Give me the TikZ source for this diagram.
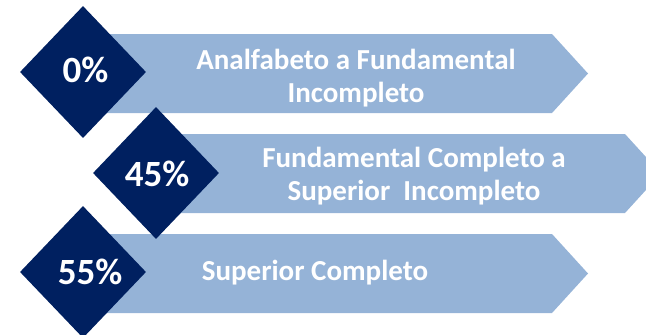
\documentclass[tikz,border=0pt]{standalone}
\usepackage{fontspec}
\setmainfont{Carlito}
\usetikzlibrary{shapes.geometric}
\definecolor{navy}{HTML}{002060}
\definecolor{lightblue}{HTML}{95B3D7}
\begin{document}
\begin{tikzpicture}[x=1pt,y=-1pt,
  band/.style={fill=lightblue},
  rhomb/.style={diamond,fill=navy,inner sep=0pt,minimum width=126pt,minimum height=132pt},
  pct/.style={anchor=base,text=white,font=\fontsize{37}{44}\selectfont\bfseries},
  txt/.style={anchor=base,text=white,align=center,font=\fontsize{29}{33}\selectfont\bfseries}]
\useasboundingbox (0,0) rectangle (646,335);
% bands
\fill[band] (83,34) -- (552,34) -- (588,73.5) -- (552,113) -- (83,113) -- cycle;
\fill[band] (160,134) -- (625,134) -- (661,173.5) -- (625,213) -- (160,213) -- cycle;
\fill[band] (83,234) -- (552,234) -- (588,273.5) -- (552,313) -- (83,313) -- cycle;
% diamonds
\node[rhomb] (d1) at (83,72) {};
\node[rhomb] (d2) at (156,173) {};
\node[rhomb] (d3) at (83,272) {};
% percentages
\node[pct] (p1) at (85.5,82) {0\%};
\node[pct] (p2) at (157,186) {45\%};
\node[pct] (p3) at (90,284) {55\%};
% labels (base = last line)
\node[txt] (t1) at (356,102) {Analfabeto a Fundamental\\Incompleto};
\node[txt] (t2) at (414,200) {Fundamental Completo a\\Superior\ \ Incompleto};
\node[txt] (t3) at (315,280) {Superior Completo};
\end{tikzpicture}
\end{document}
